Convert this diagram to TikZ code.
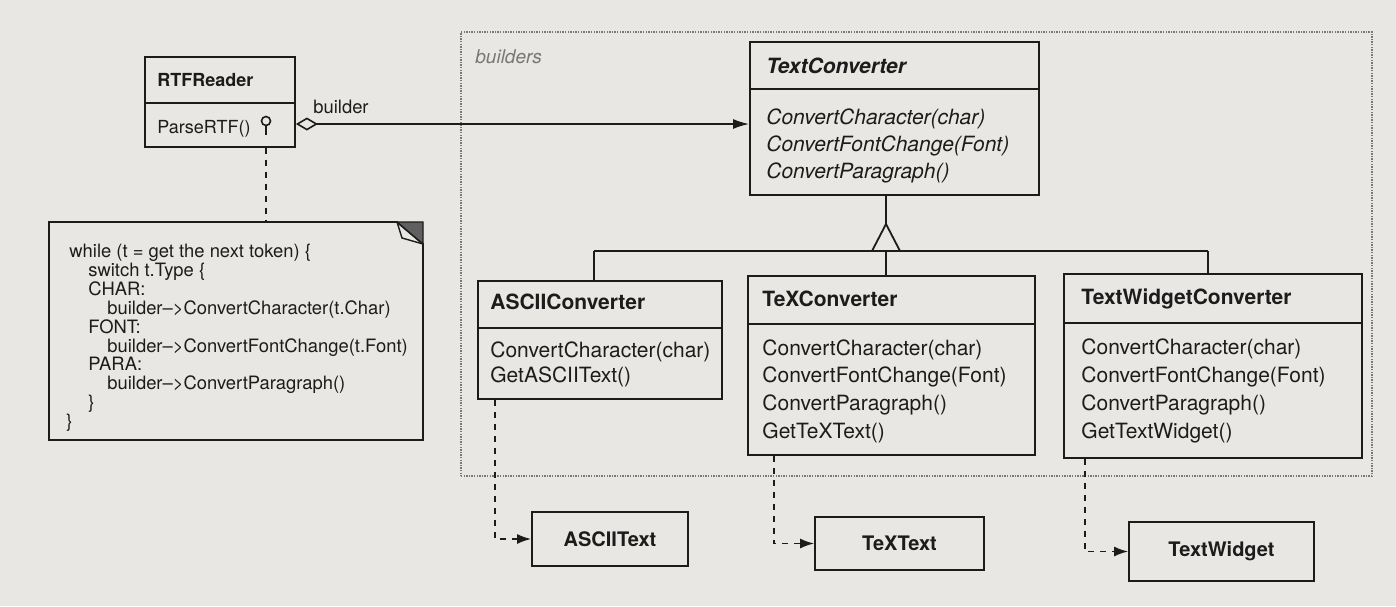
\documentclass[tikz,border=0pt]{standalone}
\usepackage{fontspec}
\setmainfont{TeX Gyre Heros}
\usetikzlibrary{arrows.meta,fit}
\definecolor{paper}{RGB}{232,231,227}
\definecolor{ink}{RGB}{28,28,28}
\definecolor{frame}{RGB}{120,120,120}
\begin{document}
\begin{tikzpicture}[x=0.5pt,y=-0.5pt,
  cls/.style={draw=ink,line width=0.9pt,inner sep=0pt},
  ttl/.style={anchor=base west,inner sep=0pt,text=ink,font=\fontsize{10.5}{12}\selectfont\bfseries},
  mth/.style={anchor=base west,inner sep=0pt,text=ink,font=\fontsize{10.5}{12}\selectfont},
  nt/.style={anchor=base west,inner sep=0pt,text=ink,font=\fontsize{9.2}{11}\selectfont},
  lbl/.style={inner sep=0pt,text=ink,font=\fontsize{10}{12}\selectfont\bfseries},
  conn/.style={draw=ink,line width=0.8pt},
  dep/.style={conn,dash pattern=on 3pt off 3pt,-{Latex[length=7pt,width=5pt]}},
  dotline/.style={conn,dash pattern=on 3pt off 3pt}]
\fill[paper] (0,0) rectangle (1396,606);
\useasboundingbox (0,0) rectangle (1396,606);

% package frame
\node[draw=frame,line width=0.9pt,dash pattern=on 0.7pt off 0.6pt,inner sep=0pt,fit={(461,32) (1372,476)}] (pkg) {};
\node[anchor=base west,inner sep=0pt,text=frame,font=\fontsize{9.5}{11}\selectfont\itshape] (pkglbl) at (475,63) {builders};

% RTFReader
\node[cls,fit={(145,57) (295,147)}] (rtf) {};
\draw[conn] (rtf.west |- 0,103) -- (rtf.east |- 0,103);
\node[ttl,font=\fontsize{9}{11}\selectfont\bfseries] (rtft) at (157,86) {RTFReader};
\node[mth,font=\fontsize{9}{11}\selectfont] (rtfm) at (157,133) {ParseRTF()};
\node[circle,draw=ink,line width=0.8pt,minimum size=4.5pt,inner sep=0pt] (lolli) at (266,121) {};
\draw[conn] (lolli.south) -- (266,135);

% note
\node[inner sep=0pt,fit={(49,222) (423,440)}] (note) {};
\draw[conn,line width=0.9pt] (49,222) -- (397,222) -- (423,244) -- (423,440) -- (49,440) -- cycle;
\fill[ink!70,draw=ink,line width=0.7pt] (397,222) -- (423,222) -- (423,244) -- cycle;
\draw[conn,line width=0.7pt] (397,222) -- (402,238) -- (423,244);
\draw[dotline] (lolli.south |- rtf.south) -- (lolli.south |- note.north);
\node[nt] (n1) at (69,257) {while (t = get the next token) \{};
\node[nt] (n2) at (88,276) {switch t.Type \{};
\node[nt] (n3) at (88,295) {CHAR:};
\node[nt] (n4) at (107,314) {builder–>ConvertCharacter(t.Char)};
\node[nt] (n5) at (88,333) {FONT:};
\node[nt] (n6) at (107,352) {builder–>ConvertFontChange(t.Font)};
\node[nt] (n7) at (88,370) {PARA:};
\node[nt] (n8) at (107,389) {builder–>ConvertParagraph()};
\node[nt] (n9) at (88,408) {\}};
\node[nt] (n10) at (66,427) {\}};

% TextConverter
\node[cls,fit={(750,42) (1039,195)}] (tc) {};
\draw[conn] (tc.west |- 0,89) -- (tc.east |- 0,89);
\node[ttl,font=\fontsize{10.5}{12}\selectfont\bfseries\itshape] (tct) at (766,73) {TextConverter};
\node[mth,font=\fontsize{10.5}{12}\selectfont\itshape] (tcm1) at (766,124) {ConvertCharacter(char)};
\node[mth,font=\fontsize{10.5}{12}\selectfont\itshape] (tcm2) at (766,151) {ConvertFontChange(Font)};
\node[mth,font=\fontsize{10.5}{12}\selectfont\itshape] (tcm3) at (766,178) {ConvertParagraph()};

% aggregation
\draw[conn,{Diamond[open,length=11pt,width=6.5pt]}-{Latex[length=8pt,width=5pt]}] (rtf.east |- 0,124) -- (tc.west |- 0,124);
\node[anchor=base west,inner sep=0pt,text=ink,font=\fontsize{9.2}{11}\selectfont] (bl) at (313,113) {builder};

% ASCIIConverter
\node[cls,fit={(478,281) (722,399)}] (ascii) {};
\draw[conn] (ascii.west |- 0,328) -- (ascii.east |- 0,328);
\node[ttl] (asciit) at (490,309) {ASCIIConverter};
\node[mth] (asciim1) at (490,357) {ConvertCharacter(char)};
\node[mth] (asciim2) at (490,382) {GetASCIIText()};

% TeXConverter
\node[cls,fit={(748,276) (1035,455)}] (tex) {};
\draw[conn] (tex.west |- 0,324) -- (tex.east |- 0,324);
\node[ttl] (text) at (762,306) {TeXConverter};
\node[mth] (texm1) at (762,355) {ConvertCharacter(char)};
\node[mth] (texm2) at (762,382) {ConvertFontChange(Font)};
\node[mth] (texm3) at (762,410) {ConvertParagraph()};
\node[mth] (texm4) at (762,438) {GetTeXText()};

% TextWidgetConverter
\node[cls,fit={(1064,274) (1362,458)}] (tw) {};
\draw[conn] (tw.west |- 0,323) -- (tw.east |- 0,323);
\node[ttl] (twt) at (1081,304) {TextWidgetConverter};
\node[mth] (twm1) at (1081,354) {ConvertCharacter(char)};
\node[mth] (twm2) at (1081,382) {ConvertFontChange(Font)};
\node[mth] (twm3) at (1081,410) {ConvertParagraph()};
\node[mth] (twm4) at (1081,438) {GetTextWidget()};

% inheritance
\coordinate (apex) at (886,224);
\coordinate (hl) at (594,251);
\coordinate (hr) at (1208,251);
\draw[conn] (apex |- tc.south) -- (apex);
\draw[conn,line width=0.9pt,fill=paper] (apex) -- (872,251) -- (900,251) -- cycle;
\draw[conn] (hl) -- (hr);
\draw[conn] (hl) -- (hl |- ascii.north);
\draw[conn] (apex |- hl) -- (apex |- tex.north);
\draw[conn] (hr) -- (hr |- tw.north);

% products
\node[cls,fit={(532,512) (688,566)}] (asciitext) {};
\node[lbl] (asciitextl) at (asciitext.center) {ASCIIText};
\node[cls,fit={(815,517) (984,570)}] (textext) {};
\node[lbl] (textextl) at (textext.center) {TeXText};
\node[cls,fit={(1129,522) (1314,581)}] (twtext) {};
\node[lbl] (twtextl) at (twtext.center) {TextWidget};

% dependencies
\draw[dep] (495,0 |- ascii.south) |- (asciitext.west);
\draw[dep] (774,0 |- tex.south) |- (textext.west);
\draw[dep] (1085,0 |- tw.south) |- (twtext.west);
\end{tikzpicture}
\end{document}
